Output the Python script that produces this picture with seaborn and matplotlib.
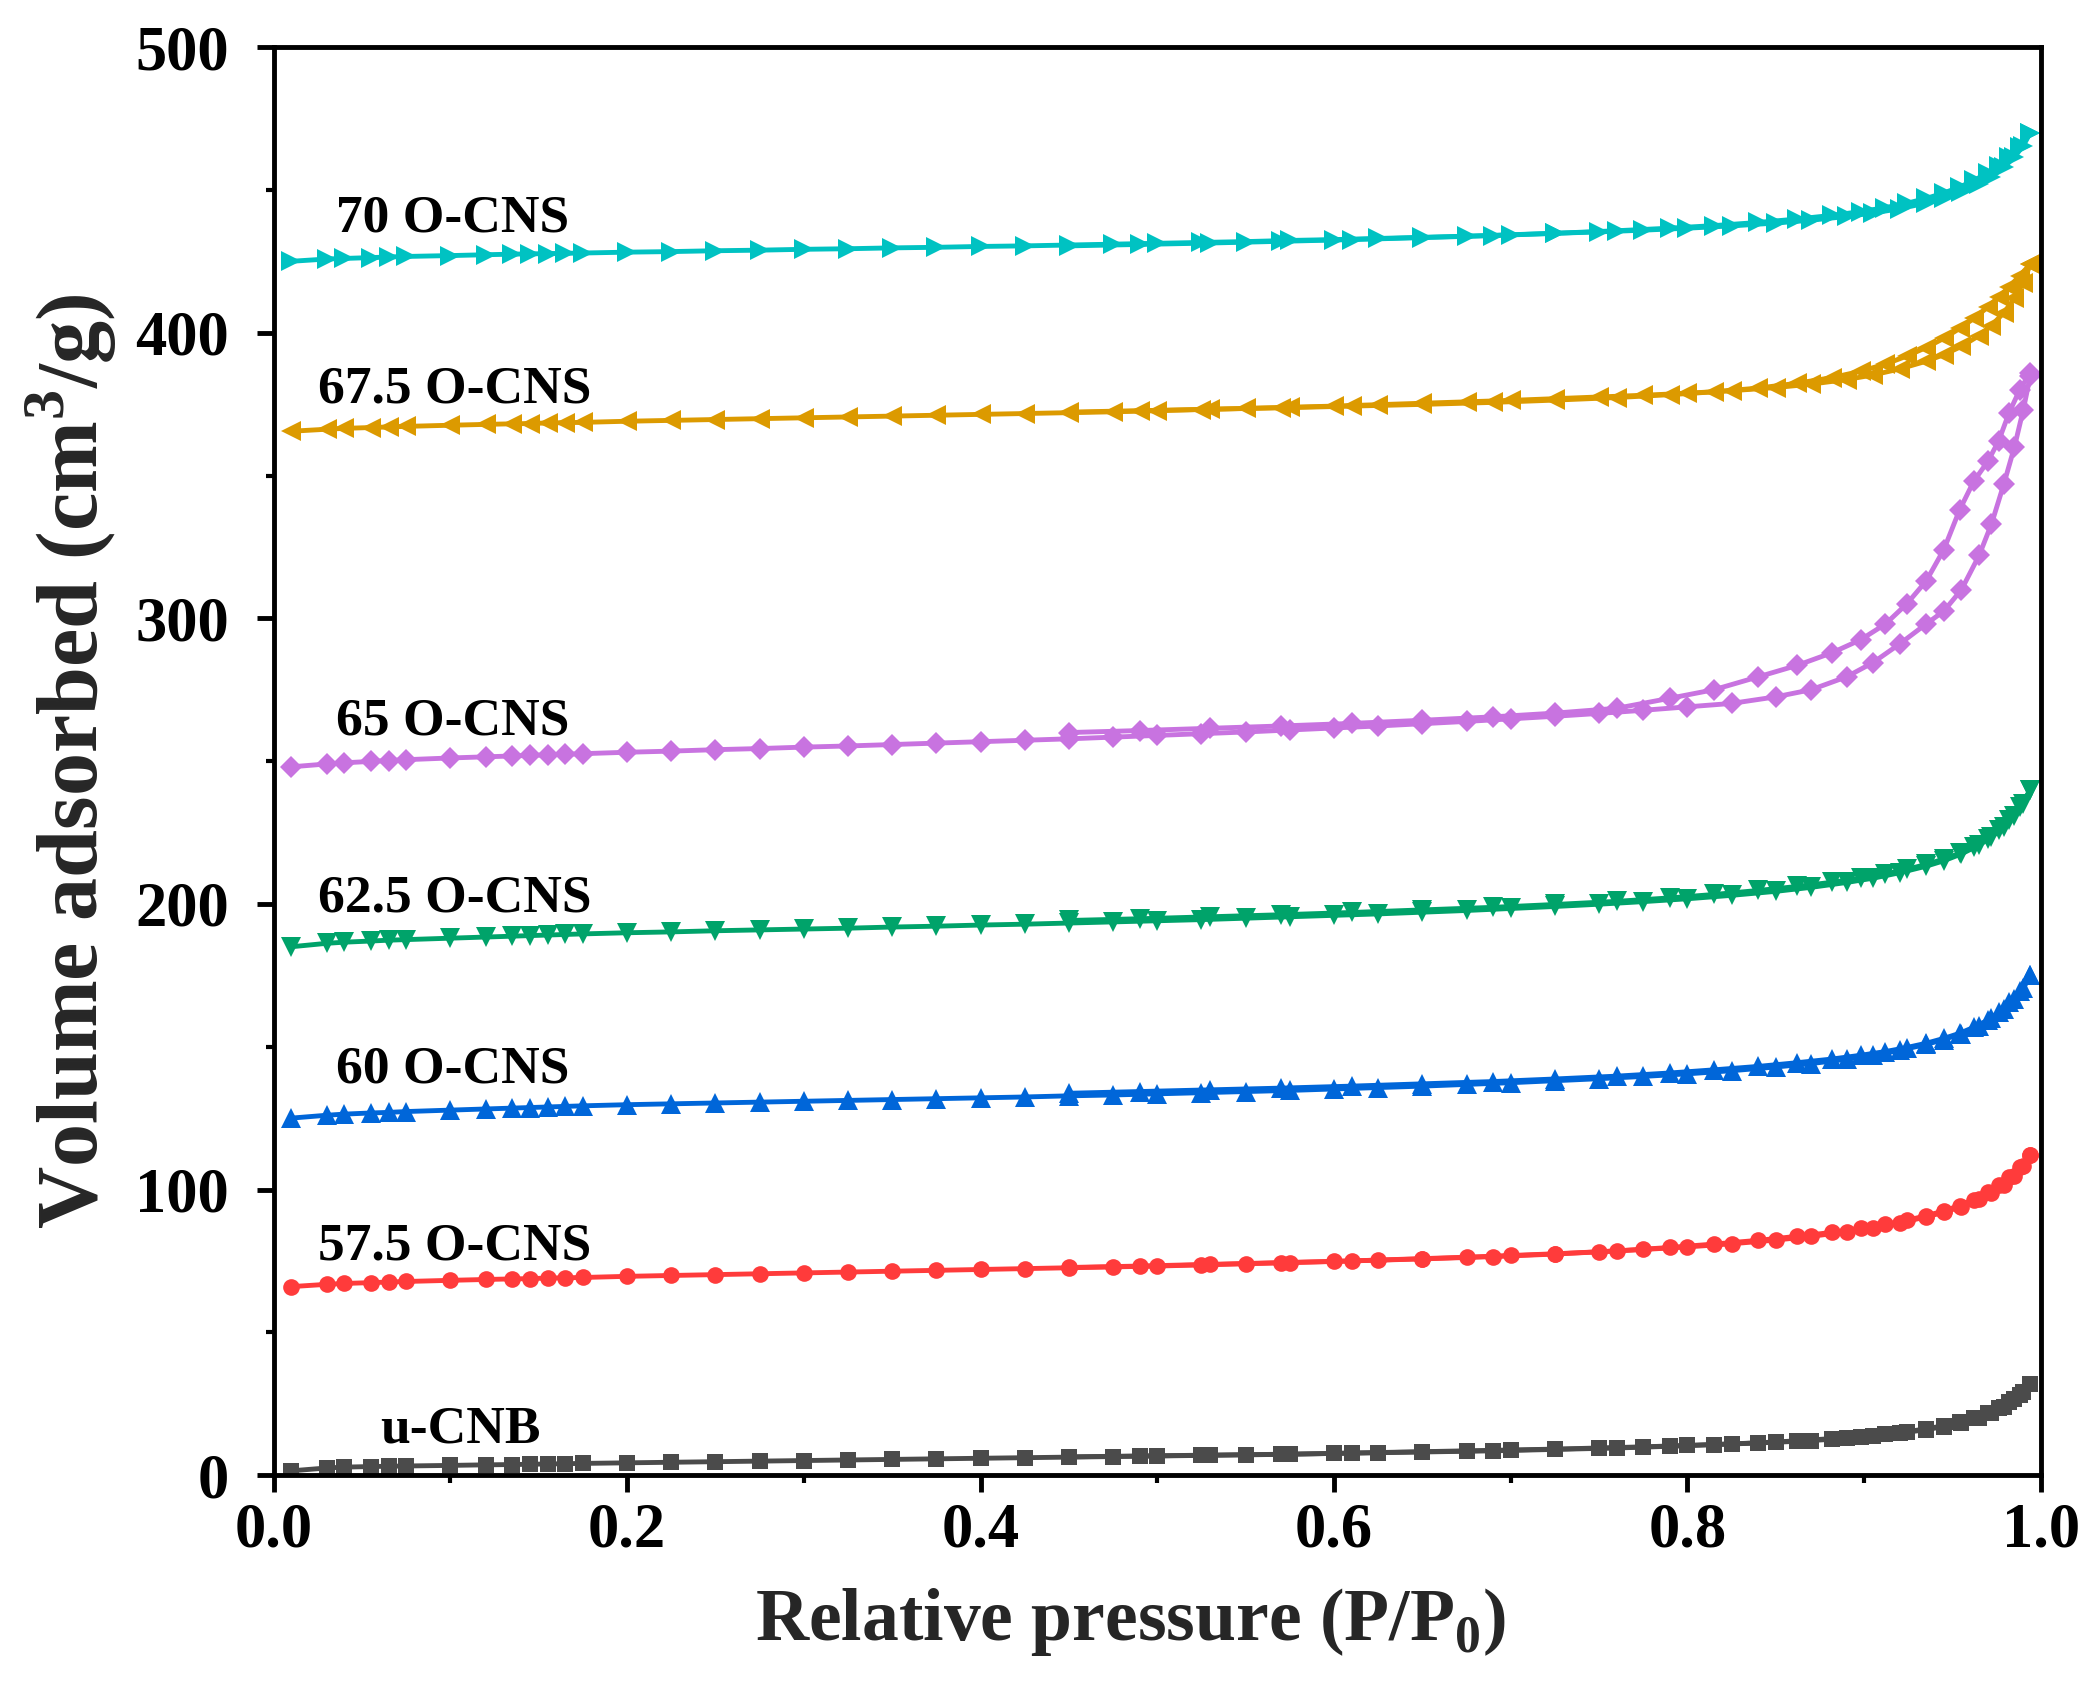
import numpy as np
import pandas as pd
import matplotlib
matplotlib.use("Agg")
import matplotlib.pyplot as plt
from matplotlib.ticker import MultipleLocator
import seaborn as sns

# relative pressure points (adsorption and desorption branches)
ads_p = [0.010, 0.030, 0.040, 0.055, 0.065, 0.075, 0.100, 0.120, 0.135, 0.145, 0.155,
         0.165, 0.175, 0.200, 0.225, 0.250, 0.275, 0.300, 0.325, 0.350, 0.375, 0.400,
         0.425, 0.450, 0.475, 0.500, 0.525, 0.550, 0.575, 0.600, 0.625, 0.650, 0.675,
         0.700, 0.725, 0.750, 0.775, 0.800, 0.825, 0.850, 0.870, 0.890, 0.905, 0.920,
         0.935, 0.945, 0.955, 0.965, 0.972, 0.979, 0.985, 0.990, 0.994]
des_p = [0.994, 0.988, 0.982, 0.976, 0.970, 0.962, 0.954, 0.945, 0.935, 0.924, 0.912,
         0.898, 0.882, 0.862, 0.840, 0.815, 0.790, 0.760, 0.725, 0.690, 0.650, 0.610,
         0.570, 0.530, 0.490, 0.450]

# volume adsorbed (cm3/g)
ucnb_ads = [1.5, 2.5, 2.8, 3.0, 3.1, 3.2, 3.4, 3.6, 3.7, 3.8, 3.9, 4.0, 4.1, 4.3, 4.5, 4.7,
            4.9, 5.1, 5.3, 5.5, 5.7, 5.9, 6.1, 6.3, 6.5, 6.7, 6.9, 7.1, 7.3, 7.6, 7.9, 8.2,
            8.5, 8.8, 9.1, 9.5, 9.9, 10.4, 10.9, 11.5, 12.1, 12.9, 13.7, 14.7, 15.9, 17.0,
            18.3, 20.0, 21.8, 24.0, 26.5, 29.0, 32.0]
ucnb_des = [32.0, 28.0, 25.5, 23.5, 21.8, 20.0, 18.6, 17.3, 16.2, 15.2, 14.3, 13.5, 12.8,
            12.0, 11.3, 10.7, 10.1, 9.5, 9.0, 8.5, 8.1, 7.7, 7.3, 7.0, 6.7, 6.4]

s575_ads = [66.0, 66.8, 67.1, 67.4, 67.6, 67.8, 68.2, 68.5, 68.7, 68.8, 69.0, 69.1, 69.2,
            69.6, 69.9, 70.2, 70.5, 70.8, 71.1, 71.4, 71.7, 72.0, 72.3, 72.6, 72.9, 73.2,
            73.6, 74.0, 74.4, 74.8, 75.3, 75.8, 76.3, 76.9, 77.5, 78.2, 79.0, 79.9, 81.0,
            82.3, 83.6, 85.2, 86.6, 88.3, 90.4, 92.0, 94.0, 96.6, 98.8, 101.6, 104.8, 108.2,
            112.0]
s575_des = [112.0, 108.0, 104.5, 101.5, 99.0, 96.5, 94.4, 92.5, 90.8, 89.2, 87.8, 86.4,
            85.0, 83.6, 82.2, 80.9, 79.7, 78.5, 77.4, 76.5, 75.7, 75.0, 74.4, 73.8, 73.2, 72.7]

s60_ads = [125.0, 126.0, 126.4, 126.8, 127.0, 127.3, 127.8, 128.2, 128.5, 128.7, 128.9,
           129.1, 129.3, 129.7, 130.0, 130.3, 130.6, 130.9, 131.2, 131.5, 131.8, 132.1,
           132.4, 132.8, 133.1, 133.5, 133.9, 134.3, 134.7, 135.2, 135.7, 136.2, 136.8,
           137.4, 138.1, 138.8, 139.6, 140.5, 141.6, 142.9, 144.1, 145.6, 147.0, 148.7,
           150.8, 152.5, 154.6, 157.4, 159.9, 163.1, 166.6, 170.4, 175.0]
s60_des = [175.0, 169.5, 165.5, 162.0, 159.3, 156.8, 154.7, 152.9, 151.2, 149.7, 148.3,
           147.0, 145.7, 144.4, 143.1, 141.9, 140.8, 139.7, 138.7, 137.8, 137.0, 136.2,
           135.5, 134.9, 134.3, 133.7]

s625_ads = [185.0, 186.2, 186.6, 187.0, 187.3, 187.5, 188.0, 188.4, 188.7, 188.9, 189.1,
            189.3, 189.5, 189.9, 190.2, 190.6, 190.9, 191.2, 191.5, 191.9, 192.2, 192.6,
            192.9, 193.3, 193.7, 194.1, 194.5, 195.0, 195.5, 196.0, 196.5, 197.1, 197.7,
            198.4, 199.1, 199.9, 200.8, 201.8, 203.0, 204.4, 205.8, 207.5, 209.0, 210.9,
            213.2, 215.1, 217.5, 220.6, 223.4, 226.9, 230.8, 235.0, 240.0]
s625_des = [240.0, 234.0, 229.5, 225.8, 222.8, 220.0, 217.7, 215.7, 213.8, 212.1, 210.5,
            209.0, 207.6, 206.1, 204.7, 203.3, 202.1, 200.9, 199.8, 198.8, 197.9, 197.0,
            196.2, 195.5, 194.8, 194.2]

s65_ads = [248.0, 249.0, 249.4, 249.9, 250.2, 250.5, 251.1, 251.5, 251.8, 252.0, 252.2,
           252.4, 252.6, 253.1, 253.5, 254.0, 254.4, 254.9, 255.3, 255.8, 256.3, 256.8,
           257.3, 257.8, 258.4, 259.0, 259.6, 260.2, 260.9, 261.6, 262.3, 263.1, 263.9,
           264.8, 265.7, 266.7, 267.8, 269.0, 270.2, 272.5, 275.0, 279.5, 284.5, 291.0,
           298.0, 302.5, 310.0, 322.0, 333.0, 347.0, 360.0, 373.0, 385.0]
s65_des = [386.0, 380.0, 372.0, 362.0, 355.0, 348.0, 338.0, 324.0, 313.0, 305.0, 298.0,
           292.5, 288.0, 283.5, 279.5, 275.0, 272.0, 268.5, 266.8, 265.5, 264.3, 263.2,
           262.3, 261.5, 260.7, 260.0]

s675_ads = [365.5, 366.2, 366.5, 366.8, 367.0, 367.2, 367.6, 367.9, 368.1, 368.2, 368.4,
            368.5, 368.6, 369.0, 369.3, 369.6, 369.9, 370.2, 370.5, 370.8, 371.1, 371.4,
            371.7, 372.0, 372.3, 372.7, 373.1, 373.5, 373.9, 374.3, 374.8, 375.3, 375.8,
            376.3, 376.9, 377.5, 378.1, 378.8, 379.7, 380.8, 382.0, 383.6, 385.2, 387.3,
            390.0, 392.3, 395.2, 399.0, 402.5, 407.0, 412.0, 417.5, 424.0]
s675_des = [424.0, 420.0, 416.0, 412.5, 409.0, 405.0, 401.5, 398.0, 394.8, 391.8, 389.0,
            386.5, 384.3, 382.3, 380.6, 379.3, 378.3, 377.3, 376.4, 375.6, 374.9, 374.3,
            373.7, 373.2, 372.7, 372.2]

s70_ads = [425.0, 425.8, 426.0, 426.3, 426.5, 426.7, 427.0, 427.3, 427.5, 427.6, 427.7,
           427.8, 427.9, 428.2, 428.4, 428.7, 428.9, 429.2, 429.4, 429.7, 429.9, 430.2,
           430.4, 430.7, 431.0, 431.3, 431.6, 431.9, 432.3, 432.6, 433.0, 433.4, 433.8,
           434.3, 434.8, 435.3, 435.9, 436.6, 437.4, 438.4, 439.4, 440.7, 441.9, 443.4,
           445.4, 447.1, 449.2, 452.0, 454.6, 457.9, 461.5, 465.5, 470.0]
s70_des = [470.0, 465.0, 461.5, 458.5, 456.0, 453.3, 451.0, 448.9, 447.0, 445.3, 443.8,
           442.4, 441.1, 439.8, 438.6, 437.5, 436.6, 435.7, 434.8, 434.0, 433.3, 432.6,
           432.0, 431.4, 430.9, 430.4]

names = ["u-CNB", "57.5 O-CNS", "60 O-CNS", "62.5 O-CNS", "65 O-CNS", "67.5 O-CNS", "70 O-CNS"]
ads_data = [ucnb_ads, s575_ads, s60_ads, s625_ads, s65_ads, s675_ads, s70_ads]
des_data = [ucnb_des, s575_des, s60_des, s625_des, s65_des, s675_des, s70_des]
colors = ["#4b4b4b", "#ff3b3b", "#0066d9", "#00a36a", "#c873e0", "#dc9a00", "#00c2c2"]
markers = ["s", "o", "^", "v", "D", "<", ">"]
marker_sizes = [12, 12, 14, 14, 11, 14, 14]
# label anchor (x, y) in data units
label_x = [0.060, 0.025, 0.035, 0.025, 0.035, 0.025, 0.035]
label_y = [16, 80, 142, 202, 264, 380, 440]

sns.set_theme(style="ticks")
plt.rcParams['font.family'] = ['Liberation Serif', 'DejaVu Serif']
plt.rcParams['font.weight'] = 'bold'
plt.rcParams['mathtext.fontset'] = 'custom'
plt.rcParams['mathtext.rm'] = 'Liberation Serif:bold'
plt.rcParams['mathtext.bf'] = 'Liberation Serif:bold'

fig = plt.figure(figsize=(20.89, 16.82), dpi=100)
ax = fig.add_axes([0.131, 0.123, 0.846, 0.849])

for i in range(len(names)):
    for xs, ys in [(ads_p, ads_data[i]), (des_p, des_data[i])]:
        sns.lineplot(x=xs, y=ys, sort=False, estimator=None, ax=ax,
                     color=colors[i], marker=markers[i], markersize=marker_sizes[i],
                     markeredgewidth=0, linewidth=3.5)
    ax.text(label_x[i], label_y[i], names[i], fontsize=38.5, fontweight='bold',
            va='center', ha='left', color='black')

ax.set_xlim(0, 1.0)
ax.set_ylim(0, 500)
ax.xaxis.set_major_locator(MultipleLocator(0.2))
ax.xaxis.set_minor_locator(MultipleLocator(0.1))
ax.yaxis.set_major_locator(MultipleLocator(100))
ax.yaxis.set_minor_locator(MultipleLocator(50))
ax.set_xticklabels([f"{v:.1f}" for v in ax.get_xticks()])

for sp in ax.spines.values():
    sp.set_visible(True)
    sp.set_linewidth(3.5)
    sp.set_color('black')
ax.tick_params(which='major', direction='out', length=12, width=3.5, labelsize=45,
               colors='black', pad=8)
ax.tick_params(which='minor', direction='out', length=6, width=3, colors='black')
ax.tick_params(axis='y', pad=20)
for lab in ax.get_xticklabels() + ax.get_yticklabels():
    lab.set_fontweight('bold')

ax.set_xlabel(r"Relative pressure (P/P$_0$)", fontsize=53, fontweight='bold')
ax.xaxis.set_label_coords(0.485, -0.078)
ax.set_ylabel(r"Volume adsorbed (cm$^3$/g)", fontsize=62, fontweight='bold', labelpad=12)
ax.grid(False)

fig.savefig("out.png", dpi=100, facecolor='white')
